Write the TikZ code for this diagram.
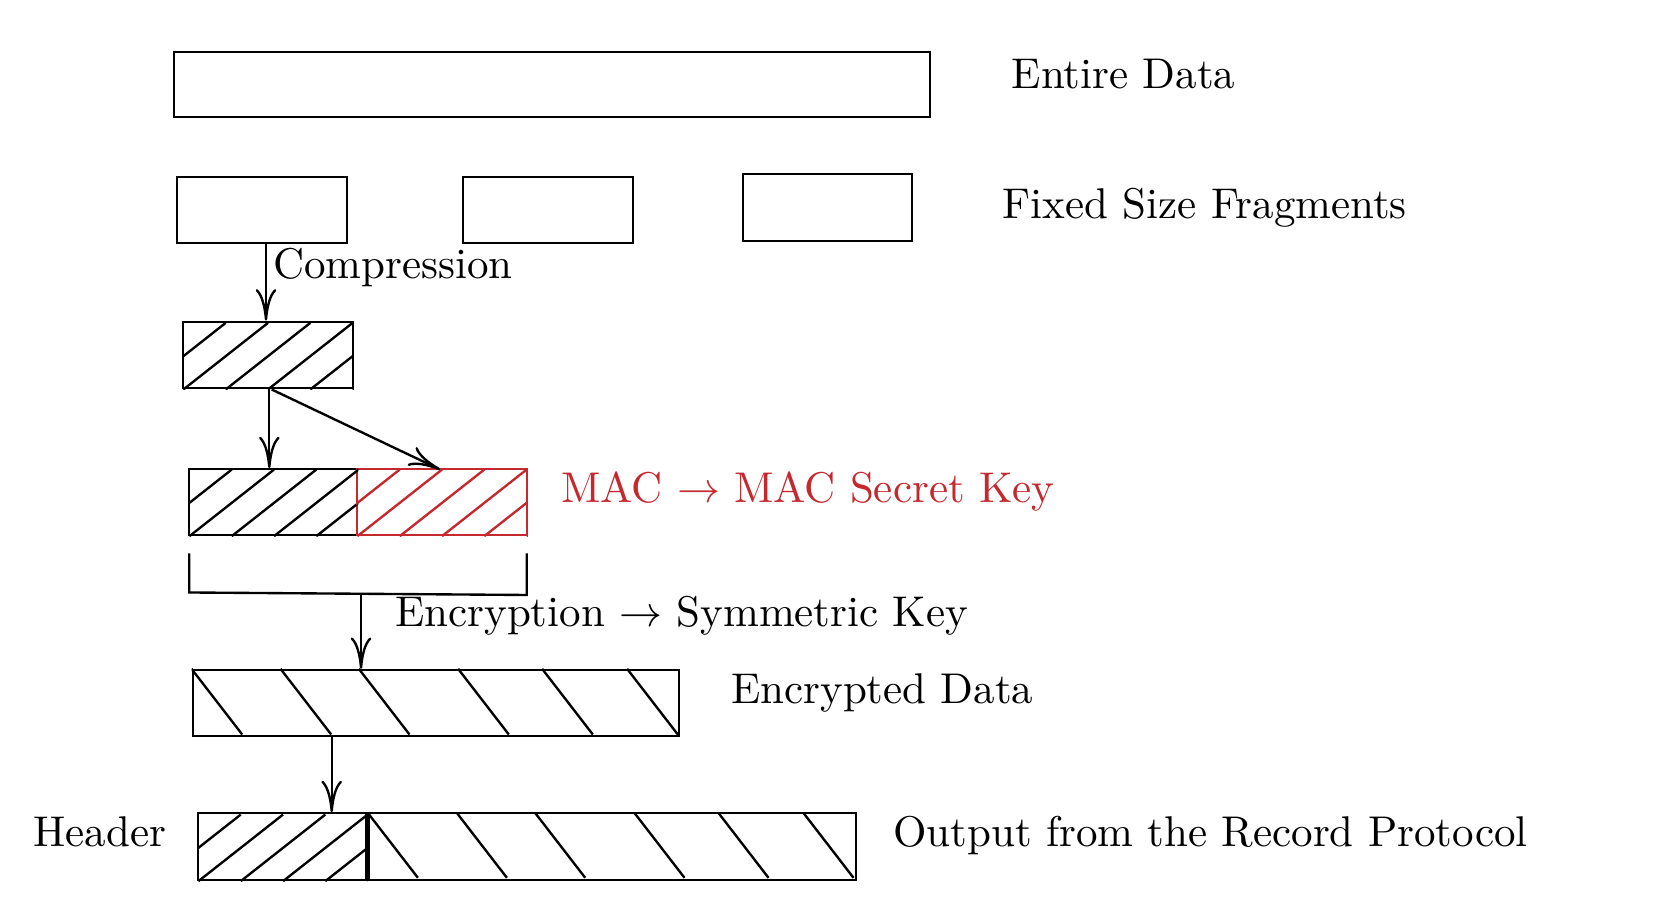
\documentclass[tikz,border=0pt]{standalone}
\usetikzlibrary{arrows.meta,calc,fit}
\definecolor{macred}{RGB}{197,40,45}
\newcommand\nehatch[2]{%
  \begin{scope}
    \clip (#1.south west) rectangle (#1.north east);
    \foreach \o in {-41,1.3,43.6,85.9,128.2,170.5}
      \draw[#2] ($(#1.south west)+(\o,0)$) -- ++(84.6,-66.6);
  \end{scope}}
\newcommand\nwhatch[1]{%
  \begin{scope}
    \clip (#1.south west) rectangle (#1.north east);
    \foreach \o in {0,89,167.3,266.6,350.6,435.6}
      \draw ($(#1.north west)+(\o,0)$) -- ++(50.7,65.7);
  \end{scope}}
\begin{document}
\begin{tikzpicture}[x=0.2326pt,y=-0.2326pt, line width=0.55pt,
  box/.style={draw, rectangle, inner sep=0pt},
  arr/.style={-{Computer Modern Rightarrow[length=7.3pt,width=4.8pt]}},
  lbl/.style={anchor=base west, inner sep=0pt}]
\useasboundingbox (0,0) rectangle (1680,912);

% boxes
\node[box, fit={(174,51.7) (930,117.3)}] (entire) {};
\node[box, fit={(177.3,177.3) (346.7,243.3)}] (frag1) {};
\node[box, fit={(463.3,177.3) (632.7,243.3)}] (frag2) {};
\node[box, fit={(742.7,174.3) (912.3,240.7)}] (frag3) {};
\node[box, fit={(183.3,321.7) (352.7,388.3)}] (comp) {};
\node[box, fit={(189.3,469.3) (357.3,535)}] (macb) {};
\node[box, draw=macred, fit={(357.3,469.3) (526.7,535)}] (macr) {};
\node[box, fit={(192.7,670) (679.3,735.7)}] (enc) {};
\node[box, fit={(198.3,813.3) (366.6,880)}] (hdr) {};
\node[box, fit={(368.4,813.3) (856,880)}] (dat) {};

% hatching
\nehatch{comp}{black}
\nehatch{macb}{black}
\nehatch{macr}{macred}
\nehatch{hdr}{black}
\nwhatch{enc}
\nwhatch{dat}

% columns for arrows
\coordinate (c1) at (266,0);
\coordinate (c2) at (269.3,0);
\coordinate (c3s) at (271.7,0);
\coordinate (c3e) at (440,0);
\coordinate (c4) at (331.7,0);

% bracket
\coordinate (br1) at (189.3,553.3);
\coordinate (br2) at (189.3,592.5);
\coordinate (br3) at (526.7,595);
\coordinate (br4) at (526.7,553.3);
\coordinate (brm) at ($(br2)!0.509!(br3)$);
\draw (br1) -- (br2) -- (br3) -- (br4);

% arrows
\draw[arr] (frag1.south -| c1) -- (comp.north -| c1);
\draw[arr] (comp.south -| c2) -- (macb.north -| c2);
\draw[arr] (comp.south -| c3s) -- ($(macr.north -| c3e)+(0,1.4)$);
\draw[arr] (brm) -- (enc.north -| brm);
\draw[arr] (enc.south -| c4) -- (hdr.north -| c4);

% labels
\node[lbl] (tEntire) at (1010.7,88.3) {Entire Data};
\node[lbl] (tFrag) at (1001.7,218.3) {Fixed Size Fragments};
\node[lbl] (tComp) at (272,278.3) {Compression};
\node[lbl, text=macred] (tMac) at (560,502.3) {MAC $\rightarrow$ MAC Secret Key};
\node[lbl] (tEnc) at (394,626.7) {Encryption $\rightarrow$ Symmetric Key};
\node[lbl] (tEncD) at (730,703.3) {Encrypted Data};
\node[lbl] (tHdr) at (32.3,846.7) {Header};
\node[lbl] (tOut) at (892,846.7) {Output from the Record Protocol};
\end{tikzpicture}
\end{document}
